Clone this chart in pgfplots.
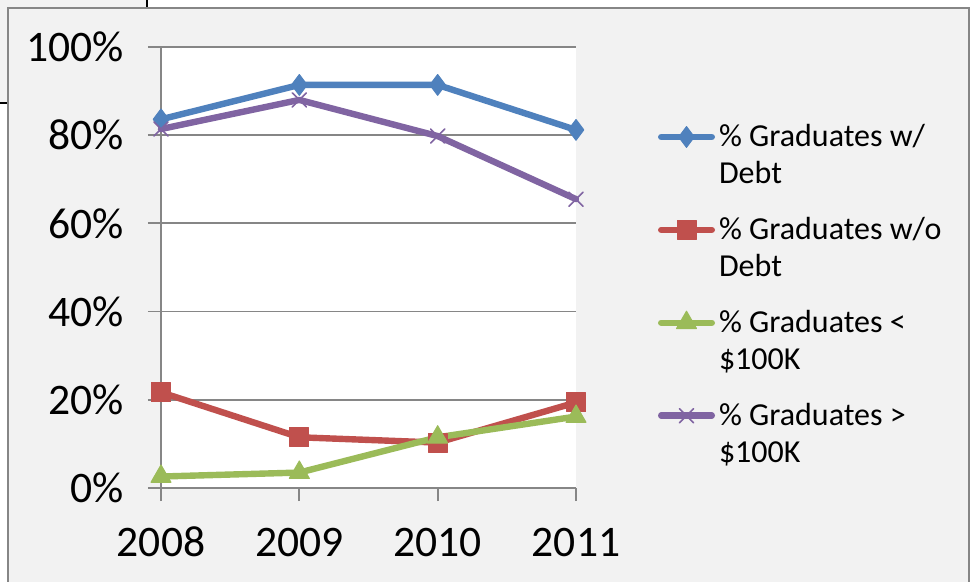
\documentclass[border=0pt]{standalone}
\usepackage{pgfplots}
\pgfplotsset{compat=1.18}
\usepackage{fontspec}
\setmainfont{Carlito}
\definecolor{s1}{HTML}{4F81BD}
\definecolor{s2}{HTML}{C0504D}
\definecolor{s3}{HTML}{9BBB59}
\definecolor{s4}{HTML}{8064A2}
\definecolor{chartbg}{HTML}{F2F2F2}
\definecolor{gridc}{HTML}{868686}
\begin{document}
\begin{tikzpicture}
% page = 975x582 px at 0.5bp per px
\useasboundingbox (0,0) rectangle (487.5bp,291bp);
\fill[white] (0,0) rectangle (487.5bp,291bp);
% bits of the window behind the chart
\fill[chartbg] (0,239.5bp) rectangle (73.5bp,291bp);
\draw[black, line width=1bp] (73.5bp,287bp) -- (73.5bp,291bp);
\draw[black, line width=1bp] (0,239.5bp) -- (4bp,239.5bp);
% chart area
\fill[chartbg] (4bp,0) rectangle (484.5bp,287bp);
\draw[gridc, line width=0.9bp] (4bp,0) -- (4bp,287bp) -- (484.5bp,287bp) -- (484.5bp,0);
\begin{axis}[
  at={(80.5bp,47bp)}, anchor=south west,
  width=207.5bp, height=220.5bp, scale only axis,
  clip=false,
  xmin=0, xmax=3, ymin=0, ymax=100,
  xtick={0,1,2,3}, xticklabels={2008,2009,2010,2011},
  ytick={0,20,40,60,80,100},
  yticklabels={0\%,20\%,40\%,60\%,80\%,100\%},
  /pgf/number format/assume math mode=true,
  axis x line*=bottom, axis y line*=left,
  axis line style={gridc, line width=0.9bp},
  ymajorgrids, grid style={gridc, line width=0.9bp},
  tick align=outside, major tick length=6.5bp,
  tick style={gridc, line width=0.9bp},
  axis background/.style={fill=white},
  ticklabel style={font=\fontsize{21.8bp}{26bp}\selectfont, inner sep=0pt},
  yticklabel style={xshift=-12bp},
  xticklabel style={anchor=north, text height=14bp, text depth=0pt, yshift=-13.5bp},
  legend cell align=left,
  legend style={at={(1.1976,0.832)}, anchor=north west, draw=none, fill=none,
    inner sep=0pt, outer sep=0pt, row sep=13.5bp, column sep=2bp,
    font=\fontsize{16bp}{18.5bp}\selectfont,
    nodes={align=left, inner sep=0pt}, cells={anchor=base west}},
  legend image code/.code={
    \draw[mark repeat=2, mark phase=2, #1]
      plot coordinates {(1.6bp,23.5bp) (14.25bp,23.5bp) (26.9bp,23.5bp)};},
  every axis plot/.append style={line width=3.2bp, line join=round, line cap=round},
]
\addplot[s1, mark=diamond*, mark size=5.2bp,
  mark options={solid, fill=s1, draw=s1, line width=0.5bp}]
  coordinates {(0,83.6) (1,91.4) (2,91.4) (3,81.2)};
\addlegendentry{\strut\% Graduates w/\\Debt\strut}
\addplot[s2, mark=square*, mark size=4.75bp,
  mark options={solid, fill=s2, draw=s2, line width=0.5bp}]
  coordinates {(0,21.7) (1,11.5) (2,10.3) (3,19.4)};
\addlegendentry{\strut\% Graduates w/o\\Debt\strut}
\addplot[s3, mark=triangle*, mark size=5.8bp,
  mark options={solid, fill=s3, draw=s3, line width=0.5bp}]
  coordinates {(0,2.6) (1,3.5) (2,11.5) (3,16.2)};
\addlegendentry{\strut\% Graduates <\\\$100K\strut}
\addplot[s4, mark=x, mark size=5bp,
  mark options={solid, draw=s4, line width=0.8bp}]
  coordinates {(0,81.4) (1,88.0) (2,79.8) (3,65.5)};
\addlegendentry{\strut\% Graduates >\\\$100K\strut}
\end{axis}
\end{tikzpicture}
\end{document}
